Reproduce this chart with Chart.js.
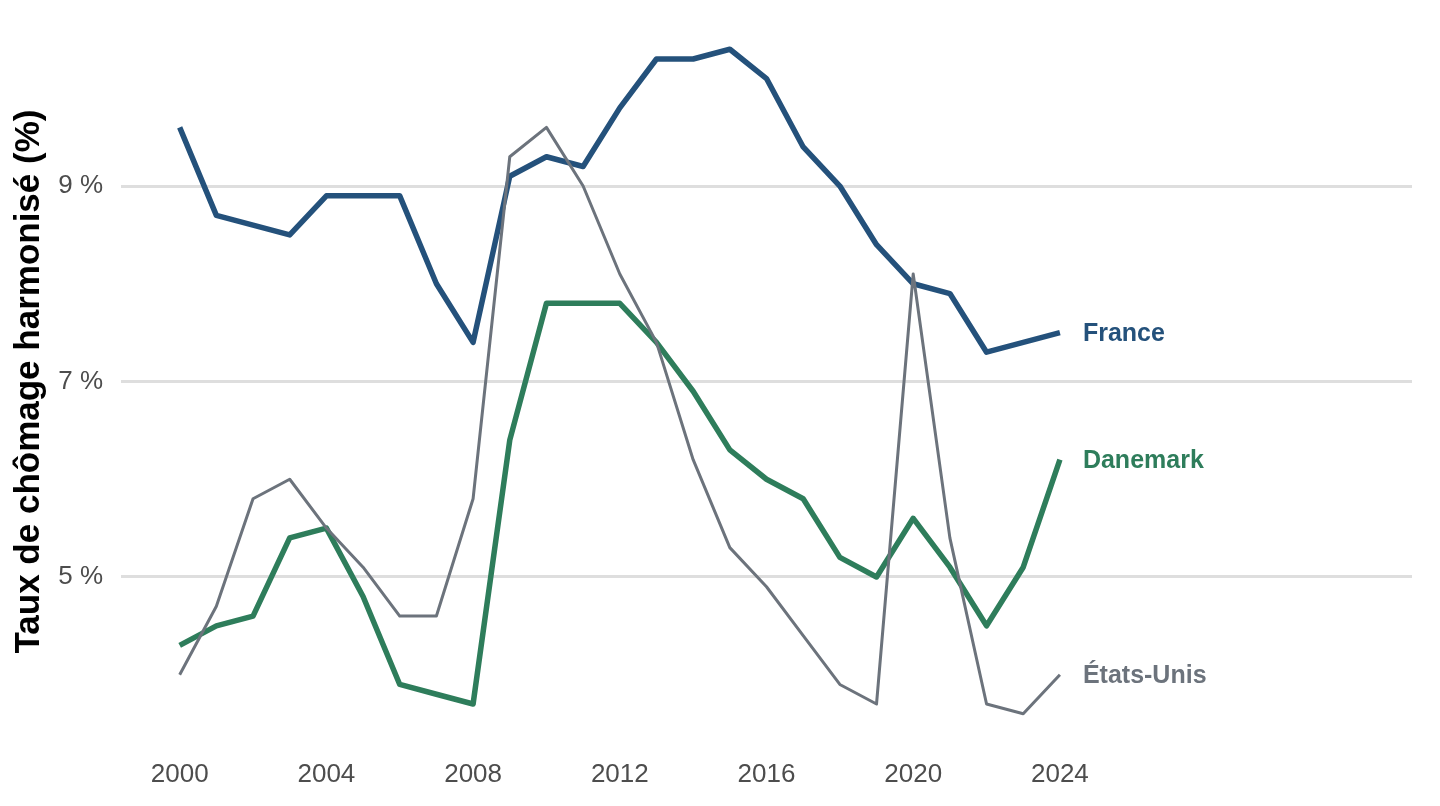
<!DOCTYPE html>
<html lang="fr">
<head>
<meta charset="utf-8">
<title>Taux de chômage harmonisé</title>
<script src="https://cdn.jsdelivr.net/npm/chart.js@4"></script>
<style>
  html, body { margin: 0; padding: 0; background: #fff; }
  #wrap { width: 1440px; height: 806px; }
</style>
</head>
<body>
<div id="wrap"><canvas id="chart"></canvas></div>
<script>
const years = [2000, 2001, 2002, 2003, 2004, 2005, 2006, 2007, 2008, 2009, 2010, 2011, 2012,
               2013, 2014, 2015, 2016, 2017, 2018, 2019, 2020, 2021, 2022, 2023, 2024];
const france = [9.6, 8.7, 8.6, 8.5, 8.9, 8.9, 8.9, 8.0, 7.4, 9.1, 9.3, 9.2, 9.8,
                10.3, 10.3, 10.4, 10.1, 9.4, 9.0, 8.4, 8.0, 7.9, 7.3, 7.4, 7.5];
const danemark = [4.3, 4.5, 4.6, 5.4, 5.5, 4.8, 3.9, 3.8, 3.7, 6.4, 7.8, 7.8, 7.8,
                  7.4, 6.9, 6.3, 6.0, 5.8, 5.2, 5.0, 5.6, 5.1, 4.5, 5.1, 6.2];
const etatsUnis = [4.0, 4.7, 5.8, 6.0, 5.5, 5.1, 4.6, 4.6, 5.8, 9.3, 9.6, 9.0, 8.1,
                   7.4, 6.2, 5.3, 4.9, 4.4, 3.9, 3.7, 8.1, 5.4, 3.7, 3.6, 4.0];
const xTicks = [2000, 2004, 2008, 2012, 2016, 2020, 2024];
const yTicks = [5, 7, 9];
const yTitle = 'Taux de chômage harmonisé (%)';

const FONT = '"Liberation Sans", Arial, Helvetica, sans-serif';

const toPoints = values => years.map((year, i) => ({ x: year, y: values[i] }));

// country names written just right of each line's last point
const endLabels = {
  id: 'endLabels',
  afterDatasetsDraw(chart) {
    const ctx = chart.ctx;
    ctx.save();
    ctx.font = `bold 25px ${FONT}`;
    ctx.textAlign = 'left';
    ctx.textBaseline = 'middle';
    chart.data.datasets.forEach((ds, i) => {
      const pts = chart.getDatasetMeta(i).data;
      const last = pts[pts.length - 1];
      ctx.fillStyle = ds.borderColor;
      ctx.fillText(ds.label, last.x + 23, last.y + 1);
    });
    ctx.restore();
  }
};

const sideTitle = {
  id: 'sideTitle',
  afterDraw(chart) {
    const ctx = chart.ctx;
    const area = chart.chartArea;
    ctx.save();
    ctx.translate(29, (area.top + area.bottom) / 2);
    ctx.rotate(-Math.PI / 2);
    ctx.font = `bold 35px ${FONT}`;
    ctx.fillStyle = '#000';
    ctx.textAlign = 'center';
    ctx.textBaseline = 'middle';
    ctx.fillText(yTitle, 0, 0);
    ctx.restore();
  }
};

new Chart(document.getElementById('chart'), {
  type: 'line',
  data: {
    datasets: [
      { label: 'France', data: toPoints(france), borderColor: '#24517b', borderWidth: 5.5, order: 2 },
      { label: 'Danemark', data: toPoints(danemark), borderColor: '#2e7d5b', borderWidth: 5.5, order: 1 },
      { label: 'États-Unis', data: toPoints(etatsUnis), borderColor: '#6c737c', borderWidth: 3, order: 0 }
    ]
  },
  options: {
    responsive: true,
    maintainAspectRatio: false,
    animation: false,
    layout: { padding: { top: 16, right: 28, left: 0, bottom: 0 } },
    elements: {
      point: { radius: 0, hoverRadius: 0 },
      line: { tension: 0, borderCapStyle: 'butt', borderJoinStyle: 'round', fill: false }
    },
    plugins: {
      legend: { display: false },
      tooltip: { enabled: false }
    },
    scales: {
      x: {
        type: 'linear',
        min: 1998.4,
        max: 2033.6,
        grid: { display: false, drawTicks: false },
        border: { display: false },
        afterBuildTicks: s => { s.ticks = xTicks.map(v => ({ value: v })); },
        afterFit: s => { s.height = 59; s.paddingLeft = 0; s.paddingRight = 0; },
        ticks: {
          padding: 12,
          color: '#4d4d4d',
          font: { family: FONT, size: 26 },
          maxRotation: 0,
          callback: v => String(v)
        }
      },
      y: {
        min: 3.26,
        max: 10.74,
        grid: { color: '#dedede', lineWidth: 3, drawTicks: false },
        border: { display: false },
        afterBuildTicks: s => { s.ticks = yTicks.map(v => ({ value: v })); },
        afterFit: s => { s.width = 121; s.paddingTop = 0; s.paddingBottom = 0; },
        ticks: {
          padding: 18,
          color: '#4d4d4d',
          font: { family: FONT, size: 26 },
          callback: v => v + ' %'
        }
      }
    }
  },
  plugins: [endLabels, sideTitle]
});
</script>
</body>
</html>
